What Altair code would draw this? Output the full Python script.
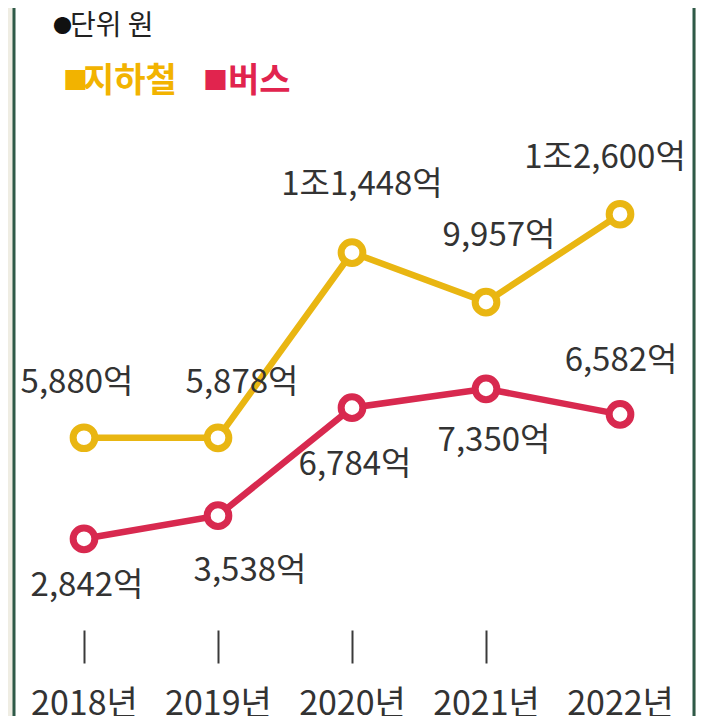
import altair as alt
import pandas as pd

# ---- data ----
YEARS = [2018, 2019, 2020, 2021, 2022]
SUBWAY = [5880, 5878, 11448, 9957, 12600]   # 억 원
BUS = [2842, 3538, 6784, 7350, 6582]        # 억 원
SERIES = ["지하철", "버스"]
COLORS = ["#E9B612", "#D8294F"]
LEGEND_COLORS = ["#F2B300", "#E1244E"]


def fmt(v):
    if v >= 10000:
        return f"{v // 10000}조{v % 10000:,}억"
    return f"{v:,}억"


rows = []
for s, vals in zip(SERIES, [SUBWAY, BUS]):
    for y, v in zip(YEARS, vals):
        rows.append({"series": s, "year": y, "value": v, "label": fmt(v)})
df = pd.DataFrame(rows)

# label offsets (layout only)
OFFSETS = {
    ("지하철", 2018): (-7, -55),
    ("지하철", 2019): (24, -55),
    ("지하철", 2020): (10, -68),
    ("지하철", 2021): (13, -66),
    ("지하철", 2022): (-15, -56),
    ("버스", 2018): (3, 47),
    ("버스", 2019): (32, 55),
    ("버스", 2020): (3, 57),
    ("버스", 2021): (8, 52),
    ("버스", 2022): (1, -53),
}

FONT = "Noto Sans CJK KR"
W, H = 688, 622

x_enc = alt.X(
    "year:O",
    scale=alt.Scale(type="point", padding=0.567),
    axis=alt.Axis(
        title=None,
        domain=False,
        grid=False,
        zindex=1,
        labelAngle=0,
        labelFont=FONT,
        labelFontSize=34,
        labelColor="#333333",
        labelPadding=24,
        labelExpr="datum.label + '년'",
        tickSize=33,
        tickWidth=2,
        tickColor={"condition": {"test": "datum.value == 2022", "value": "transparent"}, "value": "#3a3a3a"},
    ),
)
y_enc = alt.Y("value:Q", scale=alt.Scale(domain=[100, 18800], nice=False, zero=False), axis=None)
color_scale = alt.Scale(domain=SERIES, range=COLORS)

base = alt.Chart(df)

frame = alt.Chart(pd.DataFrame({"a": [0]})).mark_rect(
    fill="white", stroke="#2F5A48", strokeWidth=3
).encode(x=alt.value(6), x2=alt.value(686), y=alt.value(-20), y2=alt.value(740))

lines = base.mark_line(strokeWidth=6.5).encode(
    x=x_enc, y=y_enc, color=alt.Color("series:N", scale=color_scale, legend=None), detail="series:N"
)

points = base.mark_point(shape="circle", filled=True, fill="white", strokeWidth=7, size=470, opacity=1).encode(
    x=x_enc, y=y_enc, stroke=alt.Stroke("series:N", scale=color_scale, legend=None)
)

label_layers = []
for (s, yr), (dx, dy) in OFFSETS.items():
    label_layers.append(
        base.transform_filter(
            (alt.datum.series == s) & (alt.datum.year == yr)
        ).mark_text(
            font=FONT, fontSize=33, color="#333333", dx=dx, dy=dy, align="center", baseline="middle"
        ).encode(x=x_enc, y=y_enc, text="label:N")
    )


def txt(t, x, y, size, color, weight="normal"):
    return alt.Chart(pd.DataFrame({"t": [t]})).mark_text(
        font=FONT, fontSize=size, color=color, fontWeight=weight, align="left", baseline="middle"
    ).encode(x=alt.value(x), y=alt.value(y), text="t:N")


hdr_dot = txt("●", 45, 19, 19, "#111111")
hdr = txt("단위 원", 62, 19, 28, "#222222")
leg1_sq = txt("■", 55, 74, 25, LEGEND_COLORS[0])
leg1 = txt("지하철", 75, 74, 34, LEGEND_COLORS[0], "bold")
leg2_sq = txt("■", 195, 74, 25, LEGEND_COLORS[1])
leg2 = txt("버스", 220, 74, 34, LEGEND_COLORS[1], "bold")

chart = alt.layer(
    frame, lines, points, *label_layers, hdr_dot, hdr, leg1_sq, leg1, leg2_sq, leg2
).properties(
    width=W,
    height=H,
    autosize=alt.AutoSizeParams(type="none"),
    padding={"left": 0, "top": 0, "right": 0, "bottom": 86},
    background="#EFEDE3",
).configure_view(strokeWidth=0)

chart.save("out.html", embed_options={"renderer": "svg", "actions": False})
